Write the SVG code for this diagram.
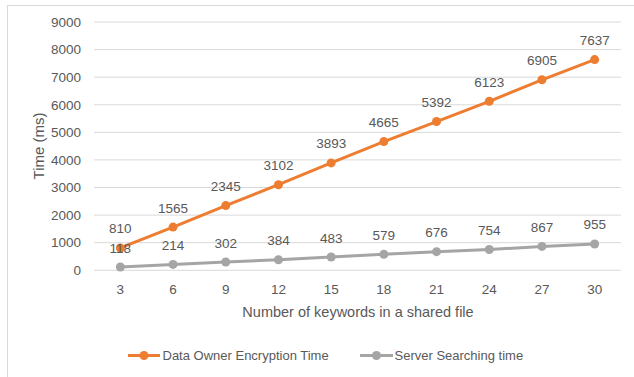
<svg xmlns="http://www.w3.org/2000/svg" width="634" height="377" viewBox="0 0 634 377">
<style>
text{font-family:"Liberation Sans",Arial,sans-serif;fill:#595959}
.tick{font-size:13.5px}
.yt{text-anchor:end}
.xt{text-anchor:middle}
.lbl{font-size:13.5px;text-anchor:middle;fill:#404040}
.grid{stroke:#D9D9D9;stroke-width:1}
.or{fill:none;stroke:#ED7D31;stroke-width:3;stroke-linejoin:round;stroke-linecap:round}
.gr{fill:none;stroke:#A5A5A5;stroke-width:3;stroke-linejoin:round;stroke-linecap:round}
.om{fill:#ED7D31}
.gm{fill:#A5A5A5}
.title{font-size:14.5px}
.ytitle{font-size:15px}
.leg{font-size:13px}
</style>
<rect x="0" y="0" width="634" height="377" fill="#FFFFFF"/>
<rect x="7.5" y="5.5" width="640" height="400" fill="none" stroke="#D9D9D9"/>
<g id="grid">
<line class="grid" x1="94" y1="270.3" x2="621" y2="270.3"/>
<line class="grid" x1="94" y1="242.7" x2="621" y2="242.7"/>
<line class="grid" x1="94" y1="215.1" x2="621" y2="215.1"/>
<line class="grid" x1="94" y1="187.5" x2="621" y2="187.5"/>
<line class="grid" x1="94" y1="159.9" x2="621" y2="159.9"/>
<line class="grid" x1="94" y1="132.4" x2="621" y2="132.4"/>
<line class="grid" x1="94" y1="104.8" x2="621" y2="104.8"/>
<line class="grid" x1="94" y1="77.2" x2="621" y2="77.2"/>
<line class="grid" x1="94" y1="49.6" x2="621" y2="49.6"/>
<line class="grid" x1="94" y1="22" x2="621" y2="22"/>
</g>
<g id="y-axis" class="tick yt">
<text x="81" y="275">0</text>
<text x="81" y="247.4">1000</text>
<text x="81" y="219.8">2000</text>
<text x="81" y="192.2">3000</text>
<text x="81" y="164.6">4000</text>
<text x="81" y="137.1">5000</text>
<text x="81" y="109.5">6000</text>
<text x="81" y="81.9">7000</text>
<text x="81" y="54.3">8000</text>
<text x="81" y="26.7">9000</text>
</g>
<text class="ytitle" transform="translate(43.5,146) rotate(-90)" text-anchor="middle">Time (ms)</text>
<g id="x-axis" class="tick xt">
<text x="120.35" y="294">3</text>
<text x="173.05" y="294">6</text>
<text x="225.75" y="294">9</text>
<text x="278.45" y="294">12</text>
<text x="331.15" y="294">15</text>
<text x="383.85" y="294">18</text>
<text x="436.55" y="294">21</text>
<text x="489.25" y="294">24</text>
<text x="541.95" y="294">27</text>
<text x="594.65" y="294">30</text>
</g>
<text class="title" x="358" y="317" text-anchor="middle">Number of keywords in a shared file</text>
<g id="connectors">
<polyline class="gr" points="120.35,267.04 173.05,264.4 225.75,261.97 278.45,259.71 331.15,256.97 383.85,254.33 436.55,251.65 489.25,249.5 541.95,246.38 594.65,243.95"/>
<polyline class="or" points="120.35,247.95 173.05,227.12 225.75,205.6 278.45,184.72 331.15,162.9 383.85,141.6 436.55,121.54 489.25,101.37 541.95,79.8 594.65,59.6"/>
</g>
<g id="series-server">
<circle class="gm" cx="120.35" cy="267.04" r="4.5"/>
<circle class="gm" cx="173.05" cy="264.4" r="4.5"/>
<circle class="gm" cx="225.75" cy="261.97" r="4.5"/>
<circle class="gm" cx="278.45" cy="259.71" r="4.5"/>
<circle class="gm" cx="331.15" cy="256.97" r="4.5"/>
<circle class="gm" cx="383.85" cy="254.33" r="4.5"/>
<circle class="gm" cx="436.55" cy="251.65" r="4.5"/>
<circle class="gm" cx="489.25" cy="249.5" r="4.5"/>
<circle class="gm" cx="541.95" cy="246.38" r="4.5"/>
<circle class="gm" cx="594.65" cy="243.95" r="4.5"/>
</g>
<g id="series-owner">
<circle class="om" cx="120.35" cy="247.95" r="4.5"/>
<circle class="om" cx="173.05" cy="227.12" r="4.5"/>
<circle class="om" cx="225.75" cy="205.6" r="4.5"/>
<circle class="om" cx="278.45" cy="184.72" r="4.5"/>
<circle class="om" cx="331.15" cy="162.9" r="4.5"/>
<circle class="om" cx="383.85" cy="141.6" r="4.5"/>
<circle class="om" cx="436.55" cy="121.54" r="4.5"/>
<circle class="om" cx="489.25" cy="101.37" r="4.5"/>
<circle class="om" cx="541.95" cy="79.8" r="4.5"/>
<circle class="om" cx="594.65" cy="59.6" r="4.5"/>
</g>
<g id="labels-owner" class="lbl">
<text x="120.35" y="233.4">810</text>
<text x="173.05" y="212.6">1565</text>
<text x="225.75" y="191.1">2345</text>
<text x="278.45" y="170.2">3102</text>
<text x="331.15" y="148.4">3893</text>
<text x="383.85" y="127.1">4665</text>
<text x="436.55" y="107">5392</text>
<text x="489.25" y="86.9">6123</text>
<text x="541.95" y="65.3">6905</text>
<text x="594.65" y="45.1">7637</text>
</g>
<g id="labels-server" class="lbl">
<text x="120.35" y="252.5">118</text>
<text x="173.05" y="249.9">214</text>
<text x="225.75" y="247.5">302</text>
<text x="278.45" y="245.2">384</text>
<text x="331.15" y="242.5">483</text>
<text x="383.85" y="239.8">579</text>
<text x="436.55" y="237.2">676</text>
<text x="489.25" y="235">754</text>
<text x="541.95" y="231.9">867</text>
<text x="594.65" y="229.4">955</text>
</g>
<g id="legend">
<g id="legend-owner">
<line x1="128" y1="355.5" x2="160" y2="355.5" stroke="#ED7D31" stroke-width="3"/>
<circle class="om" cx="144" cy="355.5" r="4.5"/>
<text class="leg" x="162.5" y="360">Data Owner Encryption Time</text>
</g>
<g id="legend-server">
<line x1="360" y1="355.5" x2="393" y2="355.5" stroke="#A5A5A5" stroke-width="3"/>
<circle class="gm" cx="376.5" cy="355.5" r="4.5"/>
<text class="leg" x="394.5" y="360">Server Searching time</text>
</g>
</g>
</svg>
